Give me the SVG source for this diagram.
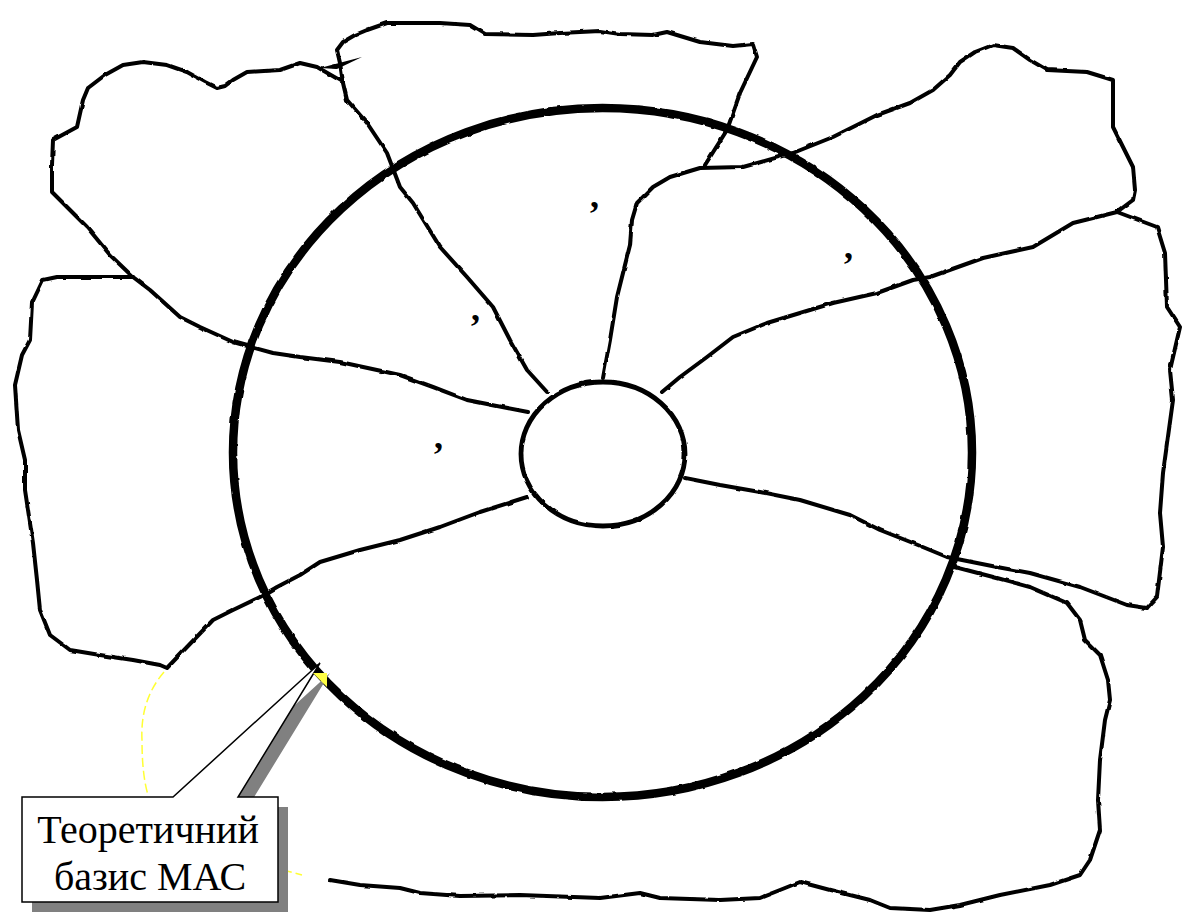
<svg xmlns="http://www.w3.org/2000/svg" width="1186" height="924" viewBox="0 0 1186 924">
<defs>
<style>
.ln{fill:none;stroke:#000;stroke-width:4;stroke-linejoin:round;stroke-linecap:round}
.ring{fill:none;stroke:#000;stroke-width:8.5}
.hub{fill:#fff;stroke:#000;stroke-width:4.8}
.yl{fill:none;stroke:#ffff33;stroke-width:1.5;stroke-dasharray:9 4}
.cm{font-family:"Liberation Serif","Times New Roman",serif;font-size:36px;font-weight:bold;fill:#000}
.lbl{font-family:"Liberation Serif","Times New Roman",serif;font-size:40px;fill:#000;text-anchor:middle}
</style>
<filter id="rough" x="-5%" y="-5%" width="110%" height="110%">
<feTurbulence type="fractalNoise" baseFrequency="0.08" numOctaves="2" seed="3" result="n"/>
<feDisplacementMap in="SourceGraphic" in2="n" scale="2.5" xChannelSelector="R" yChannelSelector="G"/>
</filter>
</defs>
<rect width="1186" height="924" fill="#fff"/>

<g id="outer-ring" filter="url(#rough)">
<ellipse class="ring" cx="602.5" cy="452.5" rx="369.5" ry="344.5"/>
</g>

<g id="connectors" filter="url(#rough)">
<polyline class="ln" points="343,82 317,67 300,63 280,70 247,72 233,80 225,86 217,88 205,82 187,72 167,65 143,62 123,65 105,75 88,88 83,100 77,127 53,140 52,165 52,192 67,207 87,227 110,255 133,277 150,290 180,317 200,327 233,342 273,353 300,357 340,362 400,375 433,387 467,400 528,412"/>
<polyline class="ln" points="547,392 527,370 510,340 493,307 467,277 440,247 413,203 400,187 387,153 367,123 347,100 343,83 340,63 337,50 343,42 355,35 367,30 387,23 440,23 470,25 485,34 533,35 560,33 600,31 620,34 653,35 667,32 700,42 733,46 753,44 757,57 740,93 727,130 705,165"/>
<polygon points="320,68 362,57 337,69" fill="#000"/>
<polyline class="ln" points="603,378 610,340 617,297 625,265 630,245 632,220 637,203 653,187 670,177 700,168 743,167 793,153 833,137 877,115 910,103 933,90 950,75 960,62 975,52 993,45 1013,48 1030,60 1047,70 1087,72 1113,80 1113,127 1123,147 1133,167 1135,190 1133,200 1117,212"/>
<polyline class="ln" points="662,392 680,377 707,357 733,337 767,323 800,313 833,303 877,293 913,280 930,277 983,258 1033,247 1073,223 1117,212"/>
<polyline class="ln" points="1117,212 1157,227 1165,253 1167,307 1180,327 1170,370 1173,400 1163,473 1160,513 1163,547 1157,597 1147,608"/>
<polyline class="ln" points="685,478 720,485 760,492 800,500 850,515 880,530 913,543 947,557 997,567 1030,573 1080,587 1127,605 1147,608"/>
<polyline class="ln" points="955,567 997,578 1030,587 1067,603 1080,620 1085,640 1100,655 1108,680 1110,700 1105,720 1100,760 1098,800 1100,830 1090,860 1080,875 1050,885 1000,895 960,905 930,910 890,908 870,900 830,890 800,882 780,890 760,898 720,900 660,898 640,893 600,898 520,895 460,896 420,893 400,888 360,885 330,880"/>
<polyline class="ln" points="527,497 480,512 440,527 400,540 360,550 320,562 300,575 277,587 260,597 233,610 213,620 187,647 167,668 160,665 133,660 100,655 70,650 50,635 40,610 37,580 33,543 25,490 25,460 18,430 15,385 22,355 30,340 32,303 43,280 57,277 133,277"/>
</g>

<g id="hidden-edges">
<path class="yl" d="M164,672 Q140,700 142,740 Q142,775 148,795"/>
<path class="yl" d="M283,870 L302,875"/>
</g>

<g id="hub" filter="url(#rough)">
<ellipse class="hub" cx="603" cy="454" rx="82" ry="72"/>
</g>

<g id="marks">
<text class="cm" x="590" y="207">,</text>
<text class="cm" x="844" y="258">,</text>
<text class="cm" x="471" y="320">,</text>
<text class="cm" x="434" y="448">,</text>
</g>

<g id="callout">
<path d="M32,807 L183,807 L330,673 L248,807 L288,807 L288,912 L32,912 Z" fill="#808080"/>
<path d="M22,797 L173,797 L320,663 L238,797 L278,797 L278,902 L22,902 Z" fill="#fff" stroke="#000" stroke-width="1.5" stroke-linejoin="miter"/>
<polygon points="313,673 327,673 327,687" fill="#ffff44"/>
<text class="lbl" x="148" y="843">Теоретичний</text>
<text class="lbl" x="150" y="890">базис МАС</text>
</g>
</svg>
